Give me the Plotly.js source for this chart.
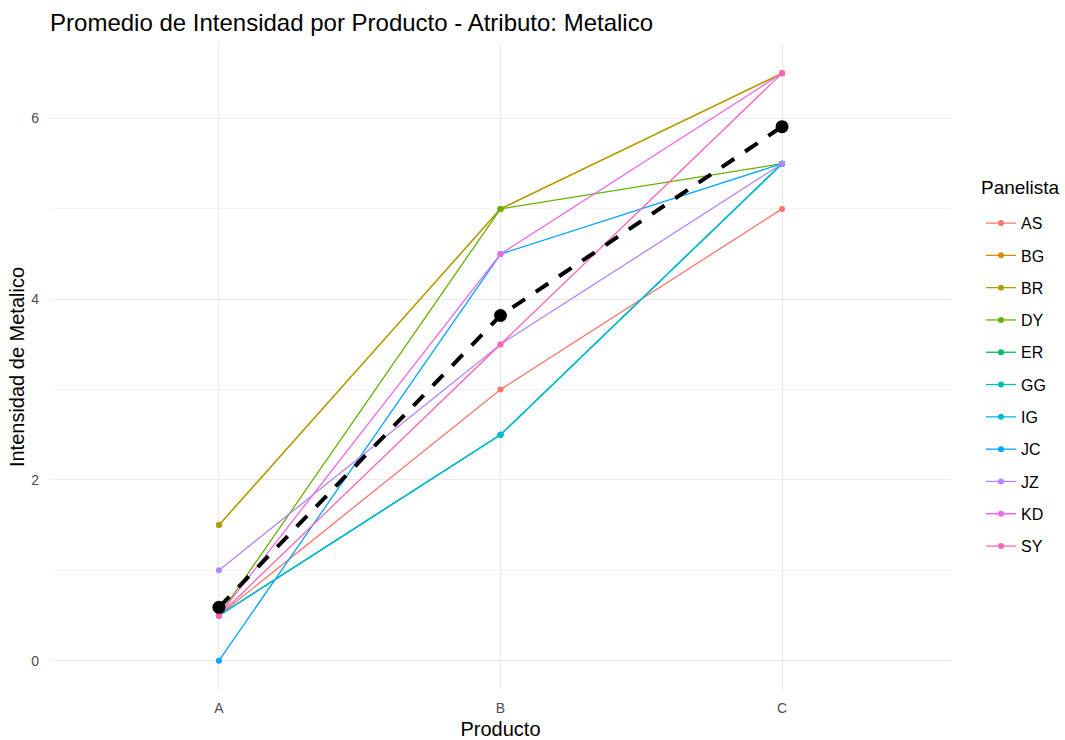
<!DOCTYPE html>
<html>
<head>
<meta charset="utf-8">
<script src="https://cdn.plot.ly/plotly-3.0.1.min.js"></script>
<style>html,body{margin:0;padding:0;background:#fff;}#chart{width:1065px;height:740px;}</style>
</head>
<body>
<div id="chart"></div>
<script>
const productos = ['A', 'B', 'C'];
const panelistas = ['AS', 'BG', 'BR', 'DY', 'ER', 'GG', 'IG', 'JC', 'JZ', 'KD', 'SY'];
const colores = ['#F8766D', '#DB8E00', '#AEA200', '#64B200', '#00BD5C', '#00C1A7', '#00BADE', '#00A6FF', '#B385FF', '#EF67EB', '#FF63B6'];
const AS = [0.5, 3.0, 5.0];
const BG = [1.5, 5.0, 6.5];
const BR = [1.5, 5.0, 6.5];
const DY = [0.5, 5.0, 5.5];
const ER = [0.5, 2.5, 5.5];
const GG = [0.5, 2.5, 5.5];
const IG = [0.5, 2.5, 5.5];
const JC = [0.0, 4.5, 5.5];
const JZ = [1.0, 3.5, 5.5];
const KD = [0.5, 4.5, 6.5];
const SY = [0.5, 3.5, 6.5];
const promedio = [0.59, 3.82, 5.91];
const valores = {AS, BG, BR, DY, ER, GG, IG, JC, JZ, KD, SY};

const traces = panelistas.map((p, i) => ({
  type: 'scatter', mode: 'lines+markers',
  x: productos, y: valores[p], name: p,
  legendgroup: p,
  line: {color: colores[i], width: 1.3},
  marker: {color: colores[i], size: 6},
  hoverinfo: 'x+y+name'
}));
traces.push({
  type: 'scatter', mode: 'lines+markers',
  x: productos, y: promedio, name: 'Promedio',
  showlegend: false,
  line: {color: '#000000', width: 4, dash: '15px,13px'},
  marker: {color: '#000000', size: 13}
});

const layout = {
  width: 1065, height: 740,
  paper_bgcolor: '#ffffff', plot_bgcolor: '#ffffff',
  font: {family: 'Liberation Sans, Arial, sans-serif', color: '#000000'},
  margin: {l: 50, r: 114, t: 44, b: 50},
  title: {text: 'Promedio de Intensidad por Producto - Atributo: Metalico',
    x: 0.047, xanchor: 'left', y: 0.97, yanchor: 'middle',
    font: {size: 24, color: '#000000'}},
  xaxis: {
    type: 'category', range: [-0.6, 2.6],
    showgrid: true, gridcolor: '#ebebeb', gridwidth: 1.1,
    zeroline: false, showline: false, ticks: '',
    tickfont: {size: 14, color: '#4d4d4d'},
    ticklabelstandoff: 8,
    title: {text: 'Producto', font: {size: 20, color: '#000000'}, standoff: 13}
  },
  yaxis: {
    range: [-0.325, 6.825], tickvals: [0, 2, 4, 6],
    showgrid: true, gridcolor: '#ebebeb', gridwidth: 1.1,
    minor: {tickvals: [1, 3, 5], showgrid: true, gridcolor: '#f4f4f4', gridwidth: 1, ticks: ''},
    zeroline: false, showline: false, ticks: '',
    tickfont: {size: 14, color: '#4d4d4d'},
    ticklabelstandoff: 10,
    title: {text: 'Intensidad de Metalico', font: {size: 20, color: '#000000'}, standoff: 1}
  },
  legend: {
    x: 1.0333, xanchor: 'left', y: 0.749, yanchor: 'top',
    font: {size: 16, color: '#000000'},
    tracegroupgap: 8.5, itemwidth: 30
  },
  annotations: [{
    text: 'Panelista', xref: 'paper', yref: 'paper',
    x: 1.031, xanchor: 'left', y: 0.7786, yanchor: 'middle',
    showarrow: false, font: {size: 19, color: '#000000'}
  }],
  showlegend: true
};

Plotly.newPlot('chart', traces, layout, {displayModeBar: false, staticPlot: true});
</script>
</body>
</html>
